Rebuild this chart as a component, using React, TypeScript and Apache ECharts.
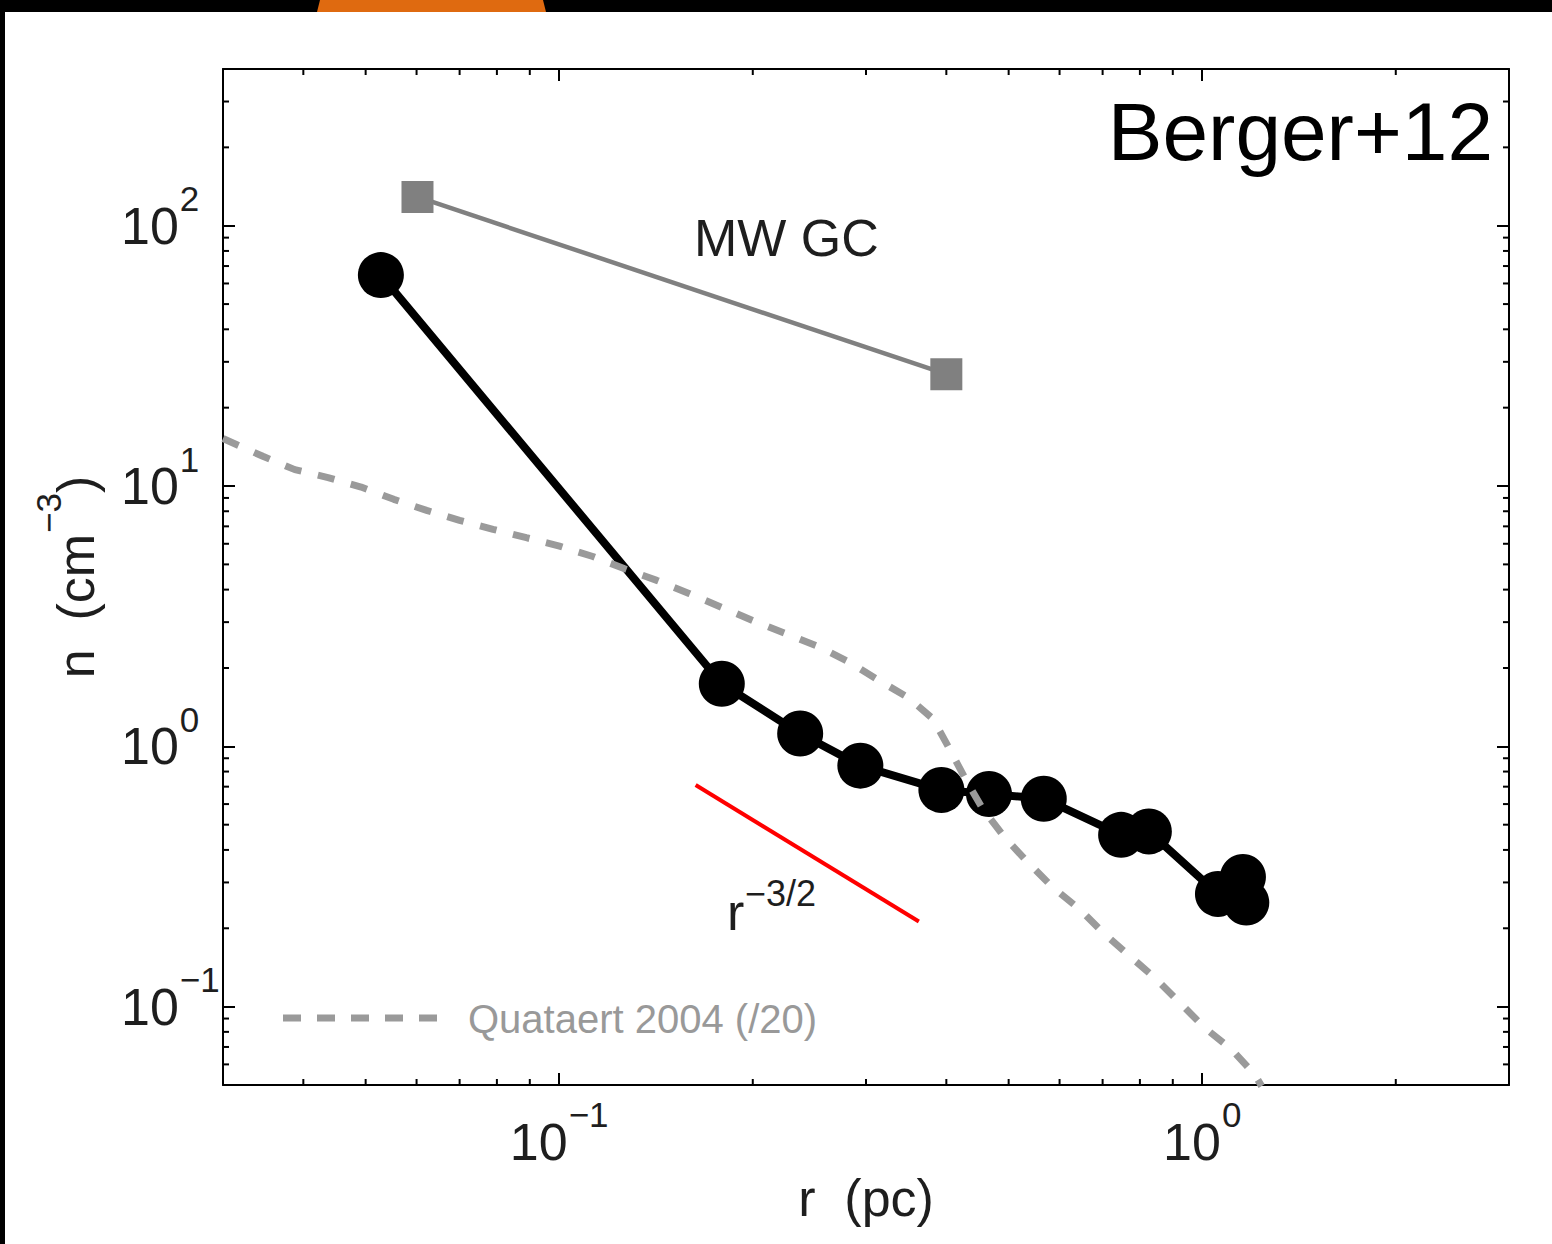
import React, { useEffect, useRef } from "react";
import * as echarts from "echarts";

// ---------- data ----------
const bergerR = [0.0528, 0.179, 0.237, 0.294, 0.393, 0.466, 0.567, 0.748, 0.826, 1.058, 1.157, 1.171];
const bergerN = [64.6, 1.74, 1.12, 0.843, 0.68, 0.656, 0.629, 0.457, 0.471, 0.271, 0.315, 0.251];

const mwR = [0.0602, 0.4];
const mwN = [129, 26.9];

const quataertR = [
  0.03, 0.0346, 0.0388, 0.0437, 0.0492, 0.0553, 0.0622, 0.07, 0.0789, 0.0889, 0.1001, 0.1128,
  0.1264, 0.1418, 0.1595, 0.1789, 0.2001, 0.2241, 0.2525, 0.2812, 0.3131, 0.3485, 0.3813,
  0.4046, 0.4296, 0.456, 0.4929, 0.5357, 0.5858, 0.6445, 0.7008, 0.771, 0.8484, 0.9279,
  1.0086, 1.11, 1.206, 1.237,
];
const quataertN = [
  15.22, 13.01, 11.56, 10.77, 9.91, 8.89, 8.06, 7.38, 6.82, 6.33, 5.88, 5.36,
  4.81, 4.34, 3.86, 3.42, 3.04, 2.72, 2.42, 2.12, 1.8, 1.543, 1.275,
  0.977, 0.738, 0.574, 0.4467, 0.358, 0.287, 0.2369, 0.1926, 0.1567, 0.1274, 0.1021,
  0.083, 0.0686, 0.055, 0.0495,
];

const slopeR = [0.163, 0.3625];
const slopeN = [0.71, 0.2125];

const xMajorTicks = [0.1, 1];
const yMajorTicks = [0.1, 1, 10, 100];
const xMinorTicks = [0.04, 0.05, 0.06, 0.07, 0.08, 0.09, 0.2, 0.3, 0.4, 0.5, 0.6, 0.7, 0.8, 0.9, 2];
const yMinorTicks = [
  0.06, 0.07, 0.08, 0.09, 0.2, 0.3, 0.4, 0.5, 0.6, 0.7, 0.8, 0.9,
  2, 3, 4, 5, 6, 7, 8, 9, 20, 30, 40, 50, 60, 70, 80, 90, 200, 300,
];

const X_MIN = 0.03;
const X_MAX = 3;
const Y_MIN = 0.05;
const Y_MAX = 400;

const FONT = "'Liberation Sans', Arial, Helvetica, sans-serif";
const TXT = "#1e1e1e";

const pairs = (xs: number[], ys: number[]) => xs.map((x, i) => [x, ys[i]]);

const supLabel = (majors: number[]) => (v: number) => {
  const hit = majors.find((m) => Math.abs(Math.log10(m) - Math.log10(v)) < 1e-6);
  if (hit === undefined) return "";
  const e = Math.round(Math.log10(hit));
  return `{b|10}{s|${e < 0 ? "\u2212" + -e : String(e)}}`;
};

const labelRich = {
  b: { fontSize: 52, fontFamily: FONT, color: TXT },
  s: { fontSize: 35, fontFamily: FONT, color: TXT, padding: [0, 0, 54, 1] },
};

export default function App() {
  const ref = useRef<HTMLDivElement>(null);

  useEffect(() => {
    if (!ref.current) return;
    const chart = echarts.init(ref.current, null, { renderer: "svg" });

    const tickStyle = { color: "#000", width: 2 };

    const minorX = (params: any, api: any) => {
      const cs = params.coordSys;
      const p = api.coord([api.value(0), api.value(1)]);
      const x = p[0];
      const bottom = cs.y + cs.height;
      return {
        type: "group",
        children: [
          { type: "line", shape: { x1: x, y1: bottom, x2: x, y2: bottom - 6 }, style: { stroke: "#000", lineWidth: 2 } },
          { type: "line", shape: { x1: x, y1: cs.y, x2: x, y2: cs.y + 6 }, style: { stroke: "#000", lineWidth: 2 } },
        ],
      };
    };
    const minorY = (params: any, api: any) => {
      const cs = params.coordSys;
      const p = api.coord([api.value(0), api.value(1)]);
      const y = p[1];
      const right = cs.x + cs.width;
      return {
        type: "group",
        children: [
          { type: "line", shape: { x1: cs.x, y1: y, x2: cs.x + 6, y2: y }, style: { stroke: "#000", lineWidth: 2 } },
          { type: "line", shape: { x1: right, y1: y, x2: right - 6, y2: y }, style: { stroke: "#000", lineWidth: 2 } },
        ],
      };
    };

    const option: any = {
      animation: false,
      backgroundColor: "#ffffff",
      textStyle: { fontFamily: FONT },
      grid: { left: 223, top: 69, width: 1286, height: 1016, containLabel: false },
      xAxis: [
        {
          type: "log",
          logBase: 10,
          min: X_MIN,
          max: X_MAX,
          position: "bottom",
          name: "r  (pc)",
          nameLocation: "middle",
          nameGap: 72,
          nameTextStyle: { fontSize: 52, fontFamily: FONT, color: TXT, lineHeight: 52 },
          axisLine: { show: true, lineStyle: { color: "#000", width: 2 } },
          axisTick: { show: true, inside: true, length: 12, lineStyle: tickStyle },
          axisLabel: {
            show: true,
            margin: 12,
            showMinLabel: false,
            showMaxLabel: false,
            formatter: supLabel(xMajorTicks),
            rich: labelRich,
          },
          splitLine: { show: false },
          minorTick: { show: false },
        },
        {
          type: "log",
          logBase: 10,
          min: X_MIN,
          max: X_MAX,
          position: "top",
          axisLine: { show: true, lineStyle: { color: "#000", width: 2 } },
          axisTick: { show: true, inside: true, length: 12, lineStyle: tickStyle },
          axisLabel: { show: false },
          splitLine: { show: false },
        },
      ],
      yAxis: [
        {
          type: "log",
          logBase: 10,
          min: Y_MIN,
          max: Y_MAX,
          position: "left",
          name: "{b|n  (cm}{s|\u22123}{b|)}",
          nameLocation: "middle",
          nameGap: 103,
          nameTextStyle: {
            fontFamily: FONT,
            color: TXT,
            rich: {
              b: { fontSize: 52, fontFamily: FONT, color: TXT },
              s: { fontSize: 35, fontFamily: FONT, color: TXT, padding: [0, 0, 54, 1] },
            },
          },
          axisLine: { show: true, lineStyle: { color: "#000", width: 2 } },
          axisTick: { show: true, inside: true, length: 12, lineStyle: tickStyle },
          axisLabel: {
            show: true,
            align: "left",
            margin: 102,
            showMinLabel: false,
            showMaxLabel: false,
            formatter: supLabel(yMajorTicks),
            rich: labelRich,
          },
          splitLine: { show: false },
        },
        {
          type: "log",
          logBase: 10,
          min: Y_MIN,
          max: Y_MAX,
          position: "right",
          axisLine: { show: true, lineStyle: { color: "#000", width: 2 } },
          axisTick: { show: true, inside: true, length: 12, lineStyle: tickStyle },
          axisLabel: { show: false },
          splitLine: { show: false },
        },
      ],
      series: [
        {
          type: "custom",
          name: "minorX",
          xAxisIndex: 0,
          yAxisIndex: 0,
          silent: true,
          renderItem: minorX,
          data: xMinorTicks.map((v) => [v, Y_MIN]),
          z: 5,
        },
        {
          type: "custom",
          name: "minorY",
          xAxisIndex: 0,
          yAxisIndex: 0,
          silent: true,
          renderItem: minorY,
          data: yMinorTicks.map((v) => [X_MIN, v]),
          z: 5,
        },
        {
          type: "line",
          name: "MW GC",
          xAxisIndex: 0,
          yAxisIndex: 0,
          data: pairs(mwR, mwN),
          symbol: "rect",
          symbolSize: 32,
          lineStyle: { color: "#808080", width: 4.5 },
          itemStyle: { color: "#808080", borderWidth: 0 },
          silent: true,
          z: 2,
        },
        {
          type: "line",
          name: "r^-3/2",
          xAxisIndex: 0,
          yAxisIndex: 0,
          data: pairs(slopeR, slopeN),
          symbol: "none",
          lineStyle: { color: "#ff0000", width: 4 },
          silent: true,
          z: 2,
        },
        {
          type: "line",
          name: "Berger+12",
          xAxisIndex: 0,
          yAxisIndex: 0,
          data: pairs(bergerR, bergerN),
          symbol: "circle",
          symbolSize: 46,
          lineStyle: { color: "#000", width: 8 },
          itemStyle: { color: "#000", borderWidth: 0 },
          silent: true,
          z: 3,
        },
        {
          type: "line",
          name: "Quataert 2004 (/20)",
          xAxisIndex: 0,
          yAxisIndex: 0,
          data: pairs(quataertR, quataertN),
          symbol: "none",
          smooth: false,
          lineStyle: { color: "#9a9a9a", width: 7, type: [17, 17] },
          silent: true,
          z: 4,
        },
      ],
      graphic: [
        { type: "rect", shape: { x: 0, y: 0, width: 1552, height: 12 }, style: { fill: "#000" }, z: 100 },
        { type: "rect", shape: { x: 0, y: 0, width: 5, height: 1244 }, style: { fill: "#000" }, z: 100 },
        {
          type: "polygon",
          shape: { points: [[320, 0], [543, 0], [546, 12], [317, 12]] },
          style: { fill: "#df6a10" },
          z: 101,
        },
        {
          type: "text",
          x: 1493,
          y: 131,
          style: { text: "Berger+12", fontSize: 82, fontFamily: FONT, fill: "#000", align: "right", verticalAlign: "middle" },
          z: 50,
        },
        {
          type: "text",
          x: 694,
          y: 238,
          style: { text: "MW GC", fontSize: 52, fontFamily: FONT, fill: TXT, align: "left", verticalAlign: "middle" },
          z: 50,
        },
        {
          type: "text",
          x: 727,
          y: 912,
          style: { text: "r", fontSize: 52, fontFamily: FONT, fill: TXT, align: "left", verticalAlign: "middle" },
          z: 50,
        },
        {
          type: "text",
          x: 745,
          y: 893,
          style: { text: "\u22123/2", fontSize: 36, fontFamily: FONT, fill: TXT, align: "left", verticalAlign: "middle" },
          z: 50,
        },
        {
          type: "line",
          shape: { x1: 283, y1: 1018, x2: 440, y2: 1018 },
          style: { stroke: "#9a9a9a", lineWidth: 7, lineDash: [18, 16] },
          z: 50,
        },
        {
          type: "text",
          x: 468,
          y: 1019,
          style: { text: "Quataert 2004 (/20)", fontSize: 40, fontFamily: FONT, fill: "#999999", align: "left", verticalAlign: "middle" },
          z: 50,
        },
      ],
    };

    chart.setOption(option);
    return () => chart.dispose();
  }, []);

  return (
    <div
      ref={ref}
      style={{ position: "fixed", left: 0, top: 0, width: 1552, height: 1244, background: "#fff" }}
    />
  );
}
